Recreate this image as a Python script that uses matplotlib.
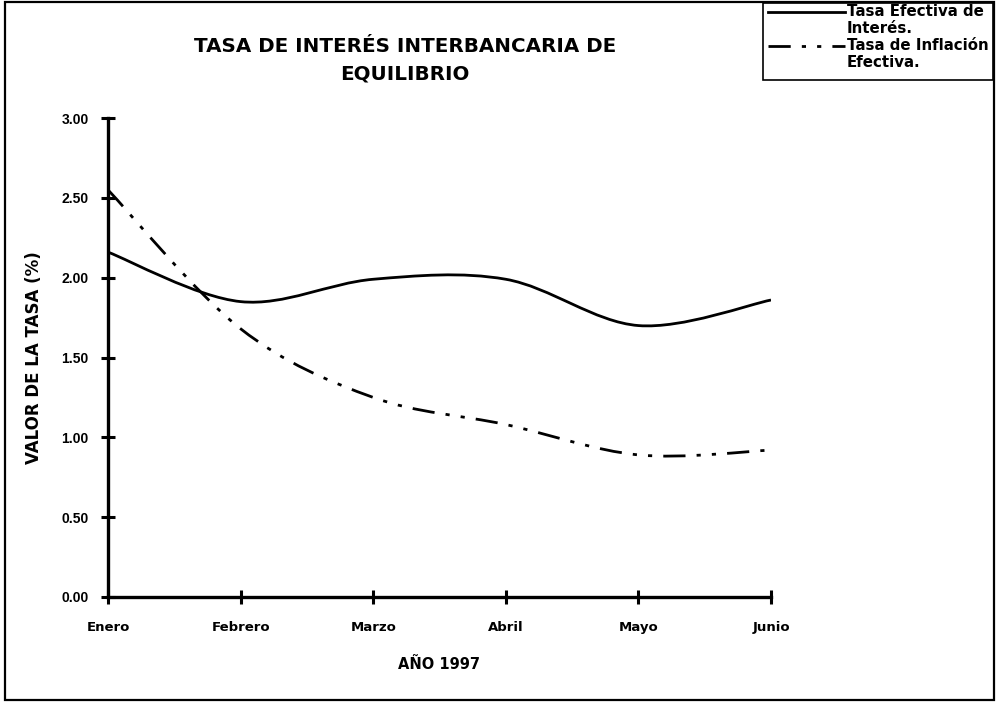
import matplotlib
matplotlib.use("Agg")
import matplotlib.pyplot as plt
from matplotlib.path import Path
from matplotlib.patches import PathPatch, Rectangle
from matplotlib.lines import Line2D

plt.rcParams['font.family'] = ['DejaVu Sans']
plt.rcParams['font.weight'] = 'bold'

# Data
months = ["Enero", "Febrero", "Marzo", "Abril", "Mayo", "Junio"]
tasa_efectiva = [2.16, 1.85, 1.99, 1.99, 1.70, 1.86]
tasa_inflacion = [2.55, 1.68, 1.25, 1.08, 0.89, 0.92]
y_ticks = [0.0, 0.5, 1.0, 1.5, 2.0, 2.5, 3.0]
series_labels = ["Tasa Efectiva de\nInterés.", "Tasa de Inflación\nEfectiva."]

W, H = 998, 708
fig = plt.figure(figsize=(W / 100, H / 100), dpi=100)
ax = fig.add_axes([108 / W, 1 - 597 / H, (771 - 108) / W, (597 - 118) / H])


def smooth_path(xs, ys):
    """Bezier path through the points (Excel-style smoothed line)."""
    pts = list(zip(xs, ys))
    n = len(pts)
    verts = [pts[0]]
    codes = [Path.MOVETO]
    for i in range(n - 1):
        p0 = pts[i - 1] if i > 0 else pts[i]
        p1 = pts[i]
        p2 = pts[i + 1]
        p3 = pts[i + 2] if i + 2 < n else pts[i + 1]
        c1 = (p1[0] + (p2[0] - p0[0]) / 6, p1[1] + (p2[1] - p0[1]) / 6)
        c2 = (p2[0] - (p3[0] - p1[0]) / 6, p2[1] - (p3[1] - p1[1]) / 6)
        verts += [c1, c2, p2]
        codes += [Path.CURVE4] * 3
    return Path(verts, codes)


x = list(range(len(months)))
solid_style = dict(color="black", lw=2.0, linestyle="-")
dash_style = dict(color="black", lw=2.0, linestyle=(0, (8, 4, 1.5, 4, 1.5, 4)))

ax.add_patch(PathPatch(smooth_path(x, tasa_efectiva), fill=False,
                       capstyle="butt", **solid_style))
ax.add_patch(PathPatch(smooth_path(x, tasa_inflacion), fill=False,
                       capstyle="butt", **dash_style))

ax.set_xlim(0, len(months) - 1)
ax.set_ylim(0, 3.0)
ax.set_xticks(x)
ax.set_xticklabels(months, fontsize=9.5, fontweight="bold")
ax.set_yticks(y_ticks)
ax.set_yticklabels([f"{v:.2f}" for v in y_ticks], fontsize=10, fontweight="bold",
                   family="Liberation Sans")
ax.tick_params(axis="both", direction="inout", length=10, width=2.2)
ax.tick_params(axis="y", pad=9)
ax.tick_params(axis="x", pad=12)

for side in ("top", "right"):
    ax.spines[side].set_visible(False)
for side in ("left", "bottom"):
    ax.spines[side].set_linewidth(2.4)

ax.set_xlabel("AÑO 1997", fontsize=10.5, fontweight="bold", labelpad=17)
ax.set_ylabel("VALOR DE LA TASA (%)", fontsize=12, fontweight="bold", labelpad=13)

fig.text(405 / W, 1 - 60 / H, "TASA DE INTERÉS INTERBANCARIA DE\nEQUILIBRIO",
         ha="center", va="center", fontsize=14.3, fontweight="bold", linespacing=1.55)

# Outer frame
fig.add_artist(Rectangle((5 / W, 1 - 700 / H), (994 - 5) / W, (700 - 2) / H,
                         transform=fig.transFigure, fill=False, lw=1.6,
                         edgecolor="black"))

# Legend box
fig.add_artist(Rectangle((763 / W, 1 - 80 / H), (993 - 763) / W, (80 - 3) / H,
                         transform=fig.transFigure, fill=False, lw=1.2,
                         edgecolor="black", facecolor="white"))
legend_rows = [(12, solid_style), (46, dash_style)]
for (ypix, style), label in zip(legend_rows, series_labels):
    fig.add_artist(Line2D([768 / W, 845 / W], [1 - ypix / H, 1 - ypix / H],
                          transform=fig.transFigure, **style))
    fig.text(847 / W, 1 - (ypix - 8) / H, label, ha="left", va="top",
             fontsize=10.8, fontweight="bold", linespacing=1.2)

fig.savefig("out.png", dpi=100)
